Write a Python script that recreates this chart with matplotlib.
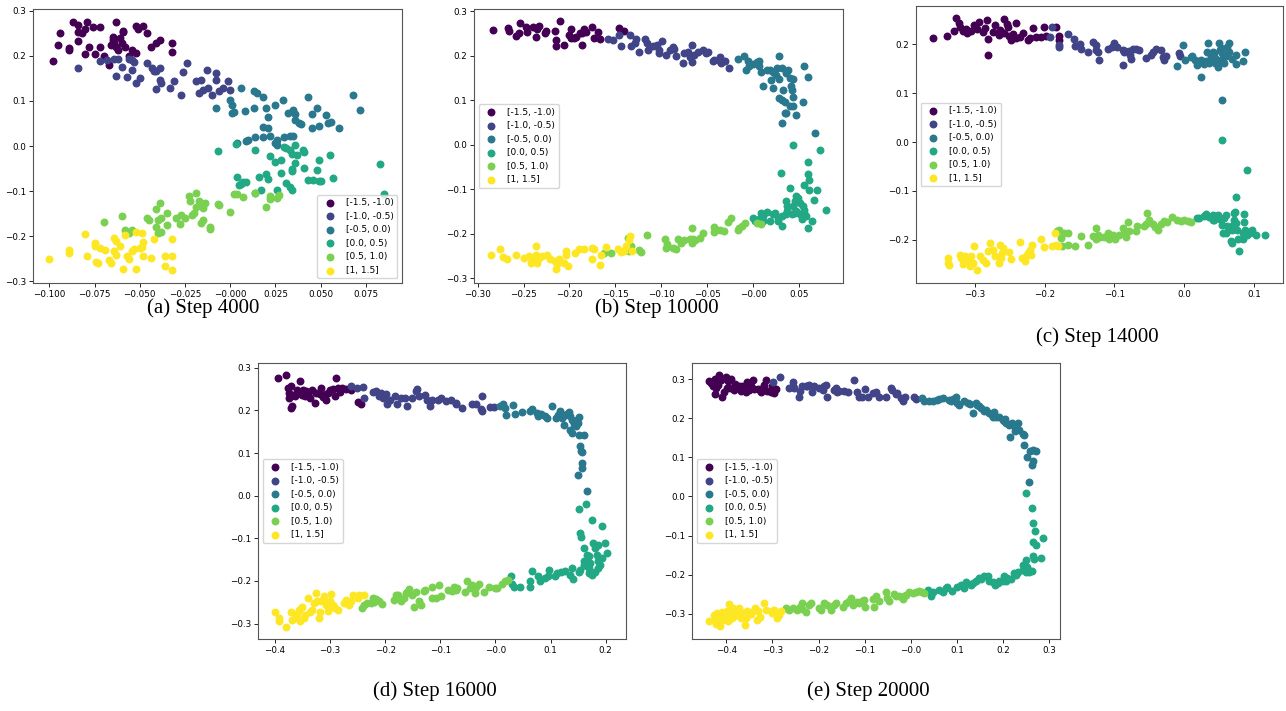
import matplotlib.pyplot as plt
import numpy as np

# class labels (same for every panel)
labels = ["[-1.5, -1.0)", "[-1.0, -0.5)", "[-0.5, 0.0)", "[0.0, 0.5)", "[0.5, 1.0)", "[1, 1.5]"]
captions = ["(a) Step 4000", "(b) Step 10000", "(c) Step 14000", "(d) Step 16000", "(e) Step 20000"]

# ---------- (a) Step 4000 ----------
a0 = [(-0.098, 0.188), (-0.095, 0.224), (-0.094, 0.250), (-0.089, 0.213), (-0.089, 0.218), (-0.087, 0.275),
      (-0.084, 0.268), (-0.084, 0.254), (-0.084, 0.232), (-0.082, 0.250), (-0.080, 0.259), (-0.079, 0.275),
      (-0.080, 0.204), (-0.078, 0.220), (-0.076, 0.265), (-0.075, 0.204), (-0.072, 0.265), (-0.072, 0.220),
      (-0.070, 0.200), (-0.067, 0.180), (-0.066, 0.224), (-0.065, 0.235), (-0.065, 0.241), (-0.064, 0.228),
      (-0.063, 0.276), (-0.063, 0.220), (-0.062, 0.213), (-0.061, 0.239), (-0.060, 0.228), (-0.059, 0.256),
      (-0.059, 0.254), (-0.058, 0.220), (-0.056, 0.200), (-0.054, 0.213), (-0.052, 0.266), (-0.051, 0.259),
      (-0.048, 0.266), (-0.046, 0.250), (-0.044, 0.220), (-0.041, 0.229), (-0.039, 0.235), (-0.032, 0.228),
      (-0.032, 0.209), (-0.052, 0.206)]
a1 = [(-0.084, 0.173), (-0.072, 0.188), (-0.068, 0.191), (-0.064, 0.192), (-0.062, 0.194), (-0.063, 0.155),
      (-0.060, 0.176), (-0.057, 0.154), (-0.056, 0.194), (-0.054, 0.191), (-0.053, 0.187), (-0.054, 0.169),
      (-0.052, 0.139), (-0.050, 0.151), (-0.046, 0.185), (-0.043, 0.172), (-0.042, 0.167), (-0.041, 0.167),
      (-0.039, 0.172), (-0.039, 0.146), (-0.038, 0.139), (-0.041, 0.126), (-0.033, 0.128), (-0.031, 0.144),
      (-0.027, 0.113), (-0.026, 0.164), (-0.024, 0.185), (-0.019, 0.145), (-0.017, 0.117), (-0.016, 0.146),
      (-0.013, 0.169), (-0.012, 0.128), (-0.010, 0.113), (-0.008, 0.161), (-0.008, 0.146), (-0.006, 0.123),
      (-0.004, 0.128), (-0.001, 0.145), (-0.000, 0.124), (-0.015, 0.124)]
a2 = [(-0.008, 0.085), (0.000, 0.102), (0.001, 0.091), (0.001, 0.074), (0.002, 0.076), (0.006, 0.128),
      (0.008, 0.078), (0.013, 0.123), (0.015, 0.117), (0.013, 0.084), (0.018, 0.109), (0.020, 0.085),
      (0.021, 0.065), (0.018, 0.043), (0.021, 0.039), (0.025, 0.092), (0.029, 0.102), (0.032, 0.074),
      (0.035, 0.080), (0.036, 0.058), (0.036, 0.072), (0.038, 0.050), (0.039, 0.049), (0.043, 0.109),
      (0.045, 0.071), (0.048, 0.084), (0.045, 0.039), (0.049, 0.044), (0.053, 0.068), (0.054, 0.050),
      (0.056, 0.053), (0.060, 0.041), (0.068, 0.114), (0.072, 0.080), (0.004, 0.006), (0.009, 0.010),
      (0.010, 0.013), (0.014, 0.021), (0.018, 0.021), (0.022, 0.022), (0.026, 0.013), (0.026, 0.002),
      (0.030, 0.021), (0.033, 0.022), (0.035, 0.023), (0.025, 0.007)]
a3 = [(-0.007, -0.011), (0.003, 0.004), (0.014, -0.009), (0.022, -0.022), (0.025, -0.036), (0.028, -0.031),
      (0.030, -0.003), (0.031, -0.005), (0.033, -0.009), (0.034, -0.018), (0.036, 0.002), (0.037, -0.020),
      (0.036, -0.038), (0.034, -0.052), (0.034, -0.055), (0.040, -0.009), (0.041, -0.013), (0.049, -0.030),
      (0.055, -0.020), (0.028, -0.061), (0.020, -0.062), (0.021, -0.073), (0.016, -0.068), (0.004, -0.068),
      (0.006, -0.085), (0.007, -0.079), (0.009, -0.079), (0.005, -0.087), (0.014, -0.104), (0.017, -0.098),
      (0.026, -0.098), (0.031, -0.083), (0.033, -0.090), (0.034, -0.098), (0.041, -0.048), (0.043, -0.075),
      (0.046, -0.075), (0.048, -0.053), (0.049, -0.078), (0.050, -0.078), (0.057, -0.072), (0.083, -0.041),
      (0.085, -0.107)]
a4 = [(0.002, -0.107), (0.004, -0.106), (0.007, -0.114), (0.014, -0.105), (0.022, -0.111), (0.022, -0.118),
      (0.020, -0.135), (0.026, -0.116), (0.027, -0.109), (0.000, -0.146), (-0.006, -0.132), (-0.007, -0.129),
      (-0.015, -0.132), (-0.015, -0.138), (-0.016, -0.170), (-0.011, -0.180), (-0.011, -0.185), (-0.023, -0.111),
      (-0.019, -0.104), (-0.022, -0.123), (-0.017, -0.123), (-0.019, -0.135), (-0.014, -0.127), (-0.020, -0.149),
      (-0.015, -0.164), (-0.035, -0.149), (-0.039, -0.127), (-0.041, -0.140), (-0.040, -0.164), (-0.038, -0.160),
      (-0.046, -0.160), (-0.045, -0.164), (-0.027, -0.153), (-0.025, -0.160), (-0.021, -0.153), (-0.030, -0.160),
      (-0.028, -0.172), (-0.060, -0.155), (-0.070, -0.168), (-0.058, -0.186), (-0.054, -0.186), (-0.056, -0.194),
      (-0.038, -0.190), (-0.040, -0.194), (-0.035, -0.175), (-0.041, -0.179)]
a5 = [(-0.100, -0.251), (-0.089, -0.237), (-0.089, -0.231), (-0.080, -0.196), (-0.079, -0.245), (-0.075, -0.216),
      (-0.075, -0.223), (-0.074, -0.257), (-0.073, -0.260), (-0.072, -0.227), (-0.069, -0.231), (-0.067, -0.253),
      (-0.066, -0.260), (-0.064, -0.234), (-0.063, -0.242), (-0.061, -0.223), (-0.059, -0.274), (-0.058, -0.197),
      (-0.057, -0.245), (-0.056, -0.251), (-0.054, -0.234), (-0.053, -0.229), (-0.052, -0.274), (-0.050, -0.227),
      (-0.049, -0.225), (-0.048, -0.214), (-0.048, -0.244), (-0.044, -0.249), (-0.042, -0.207), (-0.036, -0.245),
      (-0.036, -0.266), (-0.032, -0.207), (-0.032, -0.244), (-0.032, -0.276), (-0.064, -0.205), (-0.063, -0.210),
      (-0.052, -0.191), (-0.049, -0.194)]

# ---------- (b) Step 10000 ----------
b0 = [(-0.283, 0.258), (-0.267, 0.262), (-0.266, 0.256), (-0.258, 0.244), (-0.255, 0.250), (-0.254, 0.274),
      (-0.247, 0.265), (-0.246, 0.254), (-0.240, 0.265), (-0.236, 0.243), (-0.235, 0.259), (-0.233, 0.267),
      (-0.227, 0.252), (-0.226, 0.256), (-0.216, 0.256), (-0.215, 0.235), (-0.215, 0.222), (-0.210, 0.277),
      (-0.206, 0.224), (-0.200, 0.247), (-0.198, 0.259), (-0.198, 0.239), (-0.193, 0.243), (-0.189, 0.250),
      (-0.186, 0.250), (-0.184, 0.259), (-0.182, 0.254), (-0.175, 0.265), (-0.173, 0.239), (-0.169, 0.254),
      (-0.167, 0.237), (-0.186, 0.224), (-0.195, 0.239), (-0.146, 0.262), (-0.141, 0.256)]
b1 = [(-0.158, 0.237), (-0.153, 0.235), (-0.146, 0.247), (-0.144, 0.221), (-0.134, 0.247), (-0.133, 0.221),
      (-0.127, 0.237), (-0.124, 0.209), (-0.118, 0.237), (-0.116, 0.228), (-0.114, 0.212), (-0.109, 0.221),
      (-0.105, 0.224), (-0.102, 0.213), (-0.099, 0.232), (-0.095, 0.202), (-0.091, 0.213), (-0.086, 0.215),
      (-0.084, 0.200), (-0.076, 0.183), (-0.075, 0.206), (-0.071, 0.209), (-0.067, 0.224), (-0.066, 0.185),
      (-0.064, 0.202), (-0.060, 0.209), (-0.055, 0.213), (-0.051, 0.206), (-0.049, 0.209), (-0.044, 0.187),
      (-0.042, 0.191), (-0.038, 0.191), (-0.036, 0.198), (-0.035, 0.183), (-0.031, 0.187), (-0.026, 0.172),
      (-0.129, 0.229), (-0.102, 0.206), (-0.069, 0.198), (-0.087, 0.219)]
b2 = [(-0.016, 0.192), (-0.010, 0.200), (-0.008, 0.168), (-0.006, 0.187), (-0.004, 0.176), (0.000, 0.182),
      (0.004, 0.185), (0.006, 0.187), (0.006, 0.176), (0.009, 0.164), (0.011, 0.132), (0.015, 0.168),
      (0.018, 0.167), (0.020, 0.146), (0.022, 0.164), (0.025, 0.157), (0.026, 0.172), (0.028, 0.200),
      (0.028, 0.147), (0.031, 0.172), (0.033, 0.123), (0.036, 0.162), (0.038, 0.167), (0.040, 0.150),
      (0.041, 0.131), (0.044, 0.147), (0.044, 0.108), (0.028, 0.105), (0.031, 0.101), (0.035, 0.097),
      (0.035, 0.071), (0.036, 0.071), (0.040, 0.086), (0.042, 0.123), (0.054, 0.095), (0.047, 0.067),
      (0.031, 0.049), (0.056, 0.176), (0.060, 0.153), (0.067, 0.026), (0.022, 0.127), (0.044, 0.086)]
b3 = [(0.044, 0.000), (0.073, -0.013), (0.030, -0.064), (0.060, -0.040), (0.060, -0.065), (0.061, -0.079),
      (0.061, -0.101), (0.070, -0.102), (0.040, -0.097), (0.047, -0.116), (0.049, -0.121), (0.056, -0.091),
      (0.051, -0.131), (0.054, -0.137), (0.046, -0.127), (0.036, -0.127), (0.037, -0.137), (0.037, -0.150),
      (0.044, -0.138), (0.046, -0.153), (0.047, -0.150), (0.051, -0.157), (0.055, -0.146), (0.056, -0.153),
      (0.058, -0.161), (0.064, -0.172), (0.060, -0.187), (0.053, -0.168), (0.080, -0.147), (0.066, -0.125),
      (0.036, -0.155), (0.031, -0.161), (0.027, -0.164), (0.024, -0.153), (0.022, -0.157), (0.018, -0.172),
      (0.015, -0.152), (0.011, -0.161), (0.011, -0.172), (0.009, -0.153), (0.006, -0.168), (0.002, -0.172),
      (0.000, -0.164), (0.031, -0.183), (0.027, -0.172), (0.042, -0.157)]
b4 = [(-0.162, -0.244), (-0.155, -0.243), (-0.135, -0.239), (-0.133, -0.228), (-0.136, -0.209), (-0.124, -0.237),
      (-0.122, -0.241), (-0.116, -0.202), (-0.096, -0.212), (-0.095, -0.232), (-0.094, -0.224), (-0.087, -0.232),
      (-0.082, -0.212), (-0.078, -0.221), (-0.075, -0.215), (-0.069, -0.213), (-0.065, -0.212), (-0.067, -0.221),
      (-0.063, -0.215), (-0.058, -0.209), (-0.055, -0.198), (-0.043, -0.185), (-0.042, -0.197), (-0.040, -0.192),
      (-0.036, -0.191), (-0.032, -0.194), (-0.027, -0.174), (-0.024, -0.164), (-0.016, -0.191), (-0.015, -0.187),
      (-0.012, -0.183), (-0.009, -0.177), (0.004, -0.177), (0.009, -0.179), (-0.084, -0.234), (-0.066, -0.187)]
b5 = [(-0.286, -0.247), (-0.276, -0.234), (-0.272, -0.252), (-0.268, -0.258), (-0.258, -0.247), (-0.250, -0.254),
      (-0.244, -0.250), (-0.242, -0.265), (-0.241, -0.259), (-0.237, -0.227), (-0.236, -0.249), (-0.235, -0.265),
      (-0.233, -0.254), (-0.230, -0.250), (-0.224, -0.249), (-0.221, -0.256), (-0.216, -0.262), (-0.215, -0.280),
      (-0.214, -0.269), (-0.211, -0.258), (-0.206, -0.265), (-0.204, -0.247), (-0.202, -0.273), (-0.204, -0.239),
      (-0.194, -0.243), (-0.190, -0.234), (-0.184, -0.234), (-0.175, -0.232), (-0.175, -0.258), (-0.173, -0.235),
      (-0.167, -0.271), (-0.166, -0.249), (-0.160, -0.229), (-0.147, -0.234), (-0.144, -0.241), (-0.141, -0.239),
      (-0.138, -0.228), (-0.135, -0.215), (-0.134, -0.206), (-0.132, -0.239)]

# ---------- (c) Step 14000 ----------
c0 = [(-0.361, 0.212), (-0.341, 0.217), (-0.330, 0.226), (-0.327, 0.253), (-0.323, 0.243), (-0.322, 0.236),
      (-0.317, 0.226), (-0.313, 0.231), (-0.312, 0.222), (-0.306, 0.226), (-0.301, 0.240), (-0.298, 0.231),
      (-0.294, 0.246), (-0.289, 0.224), (-0.286, 0.233), (-0.283, 0.250), (-0.282, 0.210), (-0.282, 0.178),
      (-0.275, 0.224), (-0.272, 0.240), (-0.266, 0.219), (-0.265, 0.229), (-0.259, 0.222), (-0.258, 0.251),
      (-0.255, 0.242), (-0.253, 0.235), (-0.251, 0.217), (-0.248, 0.209), (-0.246, 0.221), (-0.241, 0.243),
      (-0.242, 0.212), (-0.236, 0.214), (-0.232, 0.222), (-0.224, 0.209), (-0.222, 0.212), (-0.217, 0.233),
      (-0.212, 0.214), (-0.205, 0.214), (-0.201, 0.235), (-0.184, 0.235), (-0.179, 0.217), (-0.179, 0.209),
      (-0.198, 0.216)]
c1 = [(-0.193, 0.214), (-0.190, 0.235), (-0.180, 0.199), (-0.179, 0.195), (-0.167, 0.221), (-0.158, 0.210),
      (-0.156, 0.197), (-0.150, 0.201), (-0.148, 0.190), (-0.138, 0.185), (-0.131, 0.205), (-0.127, 0.199),
      (-0.126, 0.188), (-0.124, 0.185), (-0.122, 0.168), (-0.110, 0.190), (-0.103, 0.194), (-0.100, 0.202),
      (-0.097, 0.194), (-0.088, 0.188), (-0.086, 0.183), (-0.085, 0.187), (-0.079, 0.187), (-0.078, 0.178),
      (-0.076, 0.169), (-0.074, 0.190), (-0.069, 0.190), (-0.065, 0.188), (-0.055, 0.171), (-0.048, 0.178),
      (-0.045, 0.185), (-0.040, 0.190), (-0.033, 0.188), (-0.030, 0.174), (-0.029, 0.168), (-0.026, 0.176),
      (-0.088, 0.158), (-0.007, 0.182), (-0.006, 0.175)]
c2 = [(-0.010, 0.156), (-0.001, 0.199), (0.001, 0.168), (0.010, 0.174), (0.012, 0.176), (0.016, 0.168),
      (0.019, 0.158), (0.022, 0.165), (0.024, 0.168), (0.024, 0.132), (0.029, 0.160), (0.031, 0.165),
      (0.033, 0.183), (0.035, 0.202), (0.036, 0.161), (0.038, 0.175), (0.041, 0.185), (0.042, 0.165),
      (0.043, 0.182), (0.044, 0.161), (0.045, 0.171), (0.048, 0.154), (0.049, 0.165), (0.050, 0.202),
      (0.051, 0.188), (0.053, 0.192), (0.054, 0.169), (0.055, 0.182), (0.057, 0.161), (0.060, 0.175),
      (0.062, 0.195), (0.064, 0.185), (0.065, 0.202), (0.069, 0.169), (0.074, 0.178), (0.075, 0.159),
      (0.084, 0.165), (0.088, 0.183), (0.054, 0.085)]
c3 = [(0.055, 0.005), (0.090, -0.057), (0.074, -0.112), (0.041, -0.150), (0.031, -0.148), (0.036, -0.153),
      (0.041, -0.159), (0.043, -0.159), (0.053, -0.159), (0.054, -0.169), (0.056, -0.186), (0.060, -0.150),
      (0.062, -0.172), (0.064, -0.178), (0.069, -0.179), (0.072, -0.145), (0.072, -0.159), (0.074, -0.165),
      (0.076, -0.179), (0.078, -0.199), (0.073, -0.142), (0.069, -0.172), (0.067, -0.203), (0.069, -0.206),
      (0.079, -0.223), (0.084, -0.186), (0.084, -0.199), (0.086, -0.164), (0.088, -0.179), (0.091, -0.189),
      (0.094, -0.186), (0.098, -0.179), (0.103, -0.189), (0.116, -0.189), (0.086, -0.148), (0.060, -0.186),
      (0.057, -0.155), (0.019, -0.155), (0.022, -0.155), (0.029, -0.152), (0.048, -0.150)]
c4 = [(-0.183, -0.182), (-0.179, -0.179), (-0.177, -0.196), (-0.175, -0.213), (-0.172, -0.186), (-0.167, -0.186),
      (-0.167, -0.210), (-0.156, -0.213), (-0.148, -0.191), (-0.138, -0.210), (-0.131, -0.191), (-0.127, -0.176),
      (-0.127, -0.199), (-0.123, -0.189), (-0.121, -0.194), (-0.115, -0.194), (-0.110, -0.186), (-0.108, -0.199),
      (-0.102, -0.189), (-0.099, -0.198), (-0.094, -0.189), (-0.088, -0.176), (-0.086, -0.186), (-0.084, -0.193),
      (-0.080, -0.164), (-0.079, -0.182), (-0.069, -0.182), (-0.067, -0.171), (-0.057, -0.171), (-0.055, -0.167),
      (-0.050, -0.160), (-0.045, -0.167), (-0.042, -0.174), (-0.037, -0.179), (-0.033, -0.167), (-0.029, -0.162),
      (-0.024, -0.164), (-0.017, -0.153), (-0.010, -0.160), (-0.005, -0.162), (0.000, -0.159), (0.005, -0.162),
      (0.010, -0.164), (-0.053, -0.145)]
c5 = [(-0.339, -0.237), (-0.339, -0.247), (-0.338, -0.252), (-0.322, -0.230), (-0.320, -0.237), (-0.317, -0.250),
      (-0.314, -0.232), (-0.312, -0.244), (-0.309, -0.237), (-0.308, -0.254), (-0.306, -0.232), (-0.303, -0.247),
      (-0.301, -0.212), (-0.298, -0.261), (-0.293, -0.232), (-0.289, -0.240), (-0.285, -0.247), (-0.282, -0.223),
      (-0.279, -0.206), (-0.275, -0.220), (-0.272, -0.233), (-0.266, -0.248), (-0.265, -0.210), (-0.263, -0.237),
      (-0.261, -0.227), (-0.260, -0.216), (-0.251, -0.225), (-0.248, -0.239), (-0.236, -0.205), (-0.233, -0.237),
      (-0.229, -0.244), (-0.227, -0.232), (-0.224, -0.227), (-0.222, -0.221), (-0.220, -0.230), (-0.218, -0.210),
      (-0.205, -0.198), (-0.201, -0.214), (-0.189, -0.213), (-0.186, -0.186), (-0.184, -0.210), (-0.181, -0.212)]

# ---------- (d) Step 16000 ----------
d0 = [(-0.395, 0.275), (-0.380, 0.284), (-0.377, 0.253), (-0.375, 0.241), (-0.374, 0.229), (-0.372, 0.257),
      (-0.371, 0.206), (-0.369, 0.210), (-0.366, 0.237), (-0.363, 0.233), (-0.358, 0.241), (-0.355, 0.268),
      (-0.352, 0.237), (-0.349, 0.247), (-0.346, 0.233), (-0.343, 0.245), (-0.340, 0.237), (-0.337, 0.229),
      (-0.333, 0.247), (-0.328, 0.218), (-0.325, 0.241), (-0.319, 0.239), (-0.316, 0.253), (-0.313, 0.231),
      (-0.308, 0.225), (-0.304, 0.241), (-0.301, 0.247), (-0.295, 0.249), (-0.292, 0.233), (-0.290, 0.275),
      (-0.286, 0.253), (-0.282, 0.243), (-0.278, 0.253), (-0.272, 0.249), (-0.262, 0.247), (-0.250, 0.220),
      (-0.244, 0.215), (-0.307, 0.239), (-0.360, 0.247)]
d1 = [(-0.262, 0.257), (-0.252, 0.253), (-0.240, 0.254), (-0.238, 0.229), (-0.223, 0.243), (-0.217, 0.245),
      (-0.212, 0.233), (-0.208, 0.241), (-0.205, 0.229), (-0.199, 0.239), (-0.196, 0.214), (-0.192, 0.225),
      (-0.182, 0.233), (-0.178, 0.214), (-0.172, 0.229), (-0.164, 0.229), (-0.161, 0.210), (-0.151, 0.229),
      (-0.145, 0.245), (-0.142, 0.249), (-0.139, 0.233), (-0.128, 0.236), (-0.124, 0.225), (-0.119, 0.210),
      (-0.115, 0.225), (-0.104, 0.225), (-0.098, 0.228), (-0.090, 0.223), (-0.081, 0.225), (-0.072, 0.218),
      (-0.071, 0.215), (-0.060, 0.206), (-0.043, 0.215), (-0.036, 0.214), (-0.027, 0.202), (-0.025, 0.198),
      (-0.024, 0.233), (-0.009, 0.207), (-0.003, 0.207)]
d2 = [(0.009, 0.210), (0.013, 0.214), (0.017, 0.206), (0.019, 0.189), (0.031, 0.212), (0.035, 0.192),
      (0.048, 0.196), (0.063, 0.198), (0.066, 0.202), (0.075, 0.194), (0.078, 0.186), (0.083, 0.192),
      (0.090, 0.186), (0.093, 0.182), (0.102, 0.210), (0.110, 0.182), (0.113, 0.189), (0.118, 0.198),
      (0.121, 0.182), (0.124, 0.165), (0.127, 0.190), (0.130, 0.192), (0.133, 0.196), (0.136, 0.186),
      (0.139, 0.178), (0.142, 0.167), (0.148, 0.178), (0.149, 0.171), (0.152, 0.184), (0.136, 0.153),
      (0.139, 0.147), (0.151, 0.143), (0.160, 0.143), (0.154, 0.116), (0.155, 0.104), (0.157, 0.103),
      (0.158, 0.077), (0.157, 0.065), (0.149, 0.048), (0.166, 0.012), (0.146, 0.163)]
d3 = [(0.151, -0.031), (0.164, -0.020), (0.175, -0.056), (0.193, -0.072), (0.154, -0.088), (0.155, -0.096),
      (0.160, -0.123), (0.166, -0.139), (0.169, -0.142), (0.172, -0.158), (0.180, -0.123), (0.184, -0.139),
      (0.186, -0.115), (0.187, -0.154), (0.193, -0.146), (0.190, -0.162), (0.187, -0.170), (0.181, -0.178),
      (0.175, -0.185), (0.170, -0.182), (0.169, -0.170), (0.166, -0.166), (0.160, -0.162), (0.154, -0.174),
      (0.152, -0.179), (0.139, -0.170), (0.140, -0.195), (0.136, -0.185), (0.127, -0.176), (0.119, -0.178),
      (0.111, -0.182), (0.108, -0.189), (0.098, -0.174), (0.096, -0.189), (0.090, -0.193), (0.078, -0.189),
      (0.081, -0.201), (0.066, -0.176), (0.063, -0.200), (0.063, -0.213), (0.045, -0.213), (0.033, -0.213),
      (0.030, -0.207), (0.029, -0.189), (0.202, -0.135), (0.198, -0.111), (0.178, -0.111), (0.161, -0.154)]
d4 = [(-0.242, -0.264), (-0.238, -0.257), (-0.234, -0.252), (-0.226, -0.252), (-0.222, -0.239), (-0.220, -0.250),
      (-0.217, -0.242), (-0.212, -0.248), (-0.206, -0.254), (-0.184, -0.244), (-0.181, -0.234), (-0.176, -0.232),
      (-0.172, -0.248), (-0.166, -0.240), (-0.163, -0.229), (-0.160, -0.225), (-0.157, -0.218), (-0.152, -0.234),
      (-0.148, -0.260), (-0.145, -0.226), (-0.139, -0.248), (-0.136, -0.256), (-0.130, -0.223), (-0.127, -0.221),
      (-0.116, -0.213), (-0.115, -0.240), (-0.108, -0.239), (-0.102, -0.209), (-0.099, -0.236), (-0.087, -0.221),
      (-0.078, -0.223), (-0.075, -0.213), (-0.072, -0.221), (-0.069, -0.217), (-0.055, -0.225), (-0.051, -0.201),
      (-0.047, -0.217), (-0.043, -0.209), (-0.037, -0.229), (-0.035, -0.213), (-0.030, -0.207), (-0.021, -0.226),
      (-0.012, -0.213), (-0.001, -0.217), (0.003, -0.217), (0.012, -0.207), (0.017, -0.201), (0.023, -0.197)]
d5 = [(-0.401, -0.272), (-0.393, -0.286), (-0.392, -0.293), (-0.381, -0.309), (-0.372, -0.272), (-0.369, -0.291),
      (-0.363, -0.287), (-0.360, -0.278), (-0.357, -0.268), (-0.355, -0.293), (-0.351, -0.260), (-0.348, -0.287),
      (-0.345, -0.279), (-0.340, -0.240), (-0.337, -0.272), (-0.333, -0.268), (-0.330, -0.252), (-0.325, -0.229),
      (-0.324, -0.248), (-0.321, -0.286), (-0.319, -0.272), (-0.316, -0.247), (-0.312, -0.236), (-0.308, -0.257),
      (-0.306, -0.252), (-0.304, -0.270), (-0.301, -0.247), (-0.298, -0.231), (-0.295, -0.257), (-0.292, -0.264),
      (-0.286, -0.268), (-0.274, -0.252), (-0.272, -0.244), (-0.265, -0.256), (-0.262, -0.247), (-0.258, -0.232),
      (-0.250, -0.240), (-0.247, -0.234), (-0.238, -0.234)]

# ---------- (e) Step 20000 ----------
e0 = [(-0.437, 0.295), (-0.433, 0.289), (-0.428, 0.283), (-0.424, 0.300), (-0.421, 0.278), (-0.417, 0.285),
      (-0.415, 0.311), (-0.412, 0.298), (-0.408, 0.255), (-0.404, 0.268), (-0.401, 0.306), (-0.399, 0.278),
      (-0.395, 0.294), (-0.392, 0.277), (-0.390, 0.300), (-0.383, 0.272), (-0.381, 0.287), (-0.376, 0.277),
      (-0.372, 0.281), (-0.368, 0.270), (-0.365, 0.283), (-0.359, 0.278), (-0.356, 0.268), (-0.354, 0.292),
      (-0.350, 0.272), (-0.347, 0.281), (-0.342, 0.298), (-0.339, 0.275), (-0.330, 0.275), (-0.325, 0.268),
      (-0.321, 0.277), (-0.318, 0.285), (-0.314, 0.298), (-0.311, 0.270), (-0.303, 0.268), (-0.300, 0.283),
      (-0.292, 0.275), (-0.296, 0.264), (-0.424, 0.261)]
e1 = [(-0.298, 0.292), (-0.284, 0.306), (-0.265, 0.277), (-0.256, 0.292), (-0.255, 0.283), (-0.253, 0.277),
      (-0.243, 0.255), (-0.240, 0.270), (-0.235, 0.281), (-0.227, 0.283), (-0.224, 0.281), (-0.220, 0.285),
      (-0.214, 0.266), (-0.209, 0.283), (-0.199, 0.277), (-0.191, 0.272), (-0.188, 0.283), (-0.184, 0.285),
      (-0.181, 0.255), (-0.166, 0.272), (-0.163, 0.277), (-0.159, 0.266), (-0.155, 0.270), (-0.144, 0.270),
      (-0.137, 0.268), (-0.123, 0.298), (-0.116, 0.266), (-0.112, 0.255), (-0.106, 0.255), (-0.099, 0.275),
      (-0.092, 0.255), (-0.083, 0.264), (-0.076, 0.266), (-0.069, 0.255), (-0.054, 0.253), (-0.043, 0.277),
      (-0.040, 0.272), (-0.033, 0.261), (-0.029, 0.264), (-0.022, 0.251), (-0.018, 0.243), (-0.012, 0.253),
      (0.007, 0.253), (0.011, 0.249)]
e2 = [(0.025, 0.251), (0.029, 0.243), (0.040, 0.243), (0.047, 0.244), (0.056, 0.247), (0.061, 0.249),
      (0.069, 0.251), (0.083, 0.247), (0.087, 0.244), (0.092, 0.249), (0.098, 0.253), (0.101, 0.238),
      (0.105, 0.234), (0.116, 0.243), (0.123, 0.238), (0.128, 0.236), (0.134, 0.213), (0.141, 0.238),
      (0.144, 0.234), (0.148, 0.230), (0.152, 0.227), (0.159, 0.219), (0.163, 0.221), (0.170, 0.213),
      (0.176, 0.209), (0.177, 0.204), (0.181, 0.217), (0.184, 0.202), (0.191, 0.204), (0.199, 0.196),
      (0.202, 0.192), (0.204, 0.198), (0.206, 0.187), (0.213, 0.183), (0.214, 0.153), (0.220, 0.187),
      (0.224, 0.179), (0.226, 0.168), (0.231, 0.187), (0.235, 0.170), (0.242, 0.159), (0.246, 0.157),
      (0.246, 0.132), (0.251, 0.102), (0.258, 0.115), (0.262, 0.081), (0.264, 0.091), (0.265, 0.119),
      (0.271, 0.117), (0.255, 0.037)]
e3 = [(0.249, 0.009), (0.262, -0.030), (0.264, -0.068), (0.265, -0.115), (0.269, -0.089), (0.271, -0.123),
      (0.264, -0.153), (0.287, -0.106), (0.282, -0.156), (0.267, -0.159), (0.249, -0.162), (0.251, -0.179),
      (0.253, -0.187), (0.256, -0.192), (0.262, -0.190), (0.242, -0.175), (0.249, -0.192), (0.233, -0.192),
      (0.224, -0.196), (0.217, -0.210), (0.209, -0.207), (0.206, -0.215), (0.199, -0.217), (0.191, -0.215),
      (0.188, -0.221), (0.183, -0.226), (0.177, -0.219), (0.170, -0.217), (0.168, -0.202), (0.159, -0.204),
      (0.152, -0.210), (0.148, -0.207), (0.142, -0.215), (0.134, -0.221), (0.130, -0.226), (0.119, -0.219),
      (0.116, -0.234), (0.108, -0.226), (0.101, -0.230), (0.090, -0.241), (0.079, -0.230), (0.076, -0.234),
      (0.069, -0.244), (0.061, -0.238), (0.047, -0.244), (0.043, -0.253), (0.038, -0.238), (0.227, -0.200),
      (0.202, -0.204), (0.242, -0.187)]
e4 = [(-0.271, -0.285), (-0.264, -0.289), (-0.256, -0.285), (-0.246, -0.289), (-0.240, -0.281), (-0.236, -0.287),
      (-0.235, -0.272), (-0.227, -0.294), (-0.220, -0.277), (-0.217, -0.272), (-0.199, -0.285), (-0.195, -0.289),
      (-0.188, -0.272), (-0.181, -0.278), (-0.173, -0.289), (-0.166, -0.278), (-0.163, -0.272), (-0.148, -0.281),
      (-0.141, -0.272), (-0.135, -0.266), (-0.130, -0.260), (-0.126, -0.278), (-0.116, -0.270), (-0.112, -0.272),
      (-0.106, -0.266), (-0.101, -0.264), (-0.099, -0.281), (-0.083, -0.261), (-0.076, -0.255), (-0.069, -0.266),
      (-0.054, -0.244), (-0.051, -0.260), (-0.047, -0.266), (-0.036, -0.249), (-0.033, -0.255), (-0.025, -0.253),
      (-0.018, -0.261), (-0.014, -0.255), (-0.011, -0.251), (-0.004, -0.244), (0.004, -0.247), (0.011, -0.244),
      (0.018, -0.241), (0.024, -0.244), (0.029, -0.247), (-0.079, -0.281)]
e5 = [(-0.437, -0.319), (-0.426, -0.302), (-0.424, -0.311), (-0.422, -0.326), (-0.419, -0.298), (-0.415, -0.321),
      (-0.414, -0.332), (-0.412, -0.306), (-0.408, -0.294), (-0.407, -0.315), (-0.404, -0.300), (-0.402, -0.311),
      (-0.399, -0.292), (-0.397, -0.319), (-0.394, -0.275), (-0.390, -0.298), (-0.388, -0.311), (-0.385, -0.285),
      (-0.383, -0.306), (-0.379, -0.295), (-0.376, -0.302), (-0.372, -0.289), (-0.368, -0.311), (-0.365, -0.298),
      (-0.359, -0.328), (-0.357, -0.311), (-0.354, -0.292), (-0.347, -0.300), (-0.343, -0.294), (-0.337, -0.285),
      (-0.334, -0.315), (-0.330, -0.292), (-0.327, -0.309), (-0.318, -0.272), (-0.314, -0.289), (-0.301, -0.298),
      (-0.300, -0.292), (-0.296, -0.289), (-0.289, -0.311), (-0.285, -0.302), (-0.282, -0.292), (-0.373, -0.285)]

panels = [[a0, a1, a2, a3, a4, a5], [b0, b1, b2, b3, b4, b5], [c0, c1, c2, c3, c4, c5],
          [d0, d1, d2, d3, d4, d5], [e0, e1, e2, e3, e4, e5]]

# axis limits
xlims = [(-0.109, 0.095), (-0.304, 0.098), (-0.385, 0.142), (-0.431, 0.237), (-0.474, 0.323)]
ylims = [(-0.304, 0.304), (-0.311, 0.305), (-0.288, 0.278), (-0.336, 0.311), (-0.364, 0.341)]
xticks = [np.arange(-0.1, 0.0751, 0.025), np.arange(-0.30, 0.051, 0.05), np.arange(-0.3, 0.11, 0.1),
          np.arange(-0.4, 0.21, 0.1), np.arange(-0.4, 0.31, 0.1)]
xfmt = ["%.3f", "%.2f", "%.1f", "%.1f", "%.1f"]
legend_loc = ["lower right", "center left", "center left", "center left", "center left"]

# axes boxes in pixels: left, top, right, bottom
W, H = 1286, 711
boxes = [(33, 9, 402, 283), (474, 9, 843, 283), (916, 6, 1283, 283), (258, 363, 626, 639), (692, 363, 1060, 639)]
cap_pos = [(203, 308), (657, 308), (1097, 337), (435, 691), (868, 691)]

colors = plt.cm.viridis(np.linspace(0, 1, 6))

fig = plt.figure(figsize=(W / 100, H / 100), dpi=100)

for i, groups in enumerate(panels):
    l, t, r, b = boxes[i]
    ax = fig.add_axes([l / W, 1 - b / H, (r - l) / W, (b - t) / H])
    for k, pts in enumerate(groups):
        pts = np.array(pts)
        ax.scatter(pts[:, 0], pts[:, 1], s=22, color=colors[k], label=labels[k])
    ax.set_xlim(*xlims[i])
    ax.set_ylim(*ylims[i])
    ax.set_xticks(xticks[i])
    ax.set_xticklabels([(xfmt[i] % v).replace("-", "\u2212") for v in xticks[i]])
    ax.tick_params(labelsize=6.3, length=3, width=0.6, pad=2)
    for s in ax.spines.values():
        s.set_linewidth(0.8)
        s.set_color("#555555")
    ax.legend(loc=legend_loc[i], fontsize=6.5)
    cx, cy = cap_pos[i]
    fig.text(cx / W, 1 - cy / H, captions[i], ha="center", va="center",
             fontsize=15, family="Liberation Serif")

fig.savefig("out.png", dpi=100)
